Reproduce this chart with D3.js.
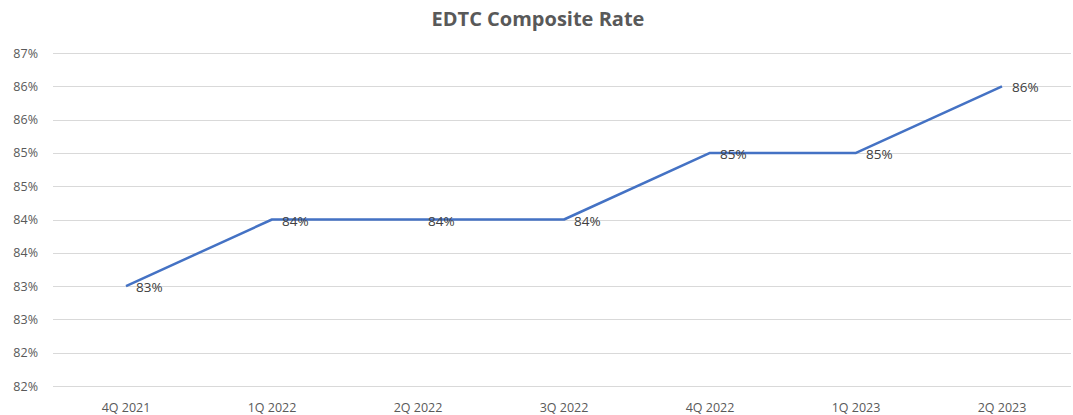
<!DOCTYPE html>
<html>
<head>
<meta charset="utf-8">
<script src="https://cdn.jsdelivr.net/npm/d3@7"></script>
<style>
  body { margin: 0; background: #fff; }
  svg { font-family: "Open Sans", "Liberation Sans", sans-serif; }
</style>
</head>
<body>
<svg id="chart" width="1073" height="415"></svg>
<script>
const quarters = ["4Q 2021", "1Q 2022", "2Q 2022", "3Q 2022", "4Q 2022", "1Q 2023", "2Q 2023"];
const rates = [0.830, 0.840, 0.840, 0.840, 0.850, 0.850, 0.860];
const yTicks = [0.815, 0.82, 0.825, 0.83, 0.835, 0.84, 0.845, 0.85, 0.855, 0.86, 0.865];

const width = 1073;
const height = 415;
const margin = { top: 53, right: -2, bottom: 29, left: 53 };

const svg = d3.select("#chart");
const fmt = d3.format(".0%");

const x = d3.scalePoint()
  .domain(quarters)
  .range([margin.left, width - margin.right])
  .padding(0.5);

const y = d3.scaleLinear()
  .domain([0.815, 0.865])
  .range([height - margin.bottom, margin.top]);

// gridlines
svg.append("g")
  .selectAll("line")
  .data(yTicks)
  .join("line")
  .attr("x1", margin.left)
  .attr("x2", 1071)
  .attr("y1", d => Math.round(y(d)) + 0.5)
  .attr("y2", d => Math.round(y(d)) + 0.5)
  .attr("stroke", "#d9d9d9")
  .attr("stroke-width", 1);

// y labels
svg.append("g")
  .selectAll("text")
  .data(yTicks)
  .join("text")
  .attr("x", 38)
  .attr("y", d => y(d) + 4.5)
  .attr("text-anchor", "end")
  .style("font-size", "12.5px")
  .attr("fill", "#595959")
  .text(d => fmt(d));

// x labels
svg.append("g")
  .selectAll("text")
  .data(quarters)
  .join("text")
  .attr("x", d => x(d))
  .attr("y", 412)
  .attr("text-anchor", "middle")
  .style("font-size", "12.5px")
  .attr("fill", "#595959")
  .text(d => d);

// line
const line = d3.line()
  .x((d, i) => x(quarters[i]))
  .y(d => y(d));

svg.append("path")
  .datum(rates)
  .attr("d", line)
  .attr("fill", "none")
  .attr("stroke", "#4472c4")
  .attr("stroke-width", 2.5)
  .attr("stroke-linejoin", "round");

// data labels
svg.append("g")
  .selectAll("text")
  .data(rates)
  .join("text")
  .attr("x", (d, i) => x(quarters[i]) + 10)
  .attr("y", d => y(d) + 6)
  .style("font-size", "13.5px")
  .attr("fill", "#404040")
  .text(d => fmt(d));

// title
svg.append("text")
  .attr("x", 538)
  .attr("y", 26)
  .attr("text-anchor", "middle")
  .style("font-size", "20px")
  .style("font-weight", "bold")
  .attr("fill", "#595959")
  .text("EDTC Composite Rate");
</script>
</body>
</html>
